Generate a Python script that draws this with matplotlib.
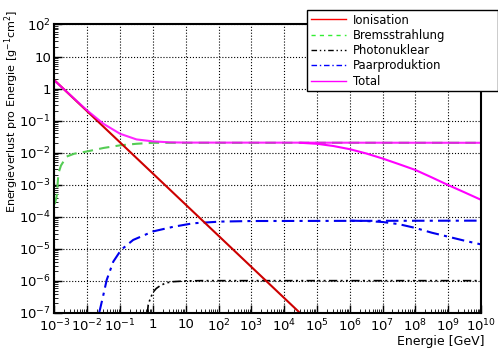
import matplotlib
matplotlib.use('Agg')
import matplotlib.pyplot as plt
from matplotlib.lines import Line2D
from matplotlib.ticker import FixedLocator, FixedFormatter, LogLocator, NullFormatter

plt.rcParams['mathtext.default'] = 'regular'

# Ionisation (straight line in log-log)
e_ion = [1e-3, 1e-2, 1e-1, 1, 10, 1e2, 1e3, 1e4, 1e5]
v_ion = [1.82, 0.195, 2.09e-2, 2.24e-3, 2.4e-4, 2.57e-5, 2.75e-6, 2.95e-7, 3.16e-8]

# Bremsstrahlung
e_brems = [1.02e-3, 1.17e-3, 1.32e-3, 1.58e-3, 2.34e-3, 3.98e-3, 1e-2, 3.16e-2,
           0.1, 0.316, 1, 10, 1e10]
v_brems = [2.5e-4, 4.5e-4, 2.3e-3, 4.0e-3, 7.6e-3, 9.3e-3, 1.1e-2, 1.41e-2,
           1.7e-2, 1.9e-2, 2.04e-2, 2.04e-2, 2.04e-2]

# Photonuklear
e_photo = [0.68, 0.72, 0.8, 1.0, 1.26, 1.66, 2.5, 4.2, 10, 30, 1e10]
v_photo = [1e-7, 1.8e-7, 2.5e-7, 4.4e-7, 5.8e-7, 7.1e-7, 8.7e-7, 9.5e-7,
           1.0e-6, 1.02e-6, 1.02e-6]

# Paarproduktion (ohne / mit Abfall bei hohen Energien)
e_pair = [0.023, 0.03, 0.039, 0.062, 0.107, 0.25, 1.0, 4.2, 17, 112, 1e3, 1e10]
v_pair = [1e-7, 3.2e-7, 1.07e-6, 4.0e-6, 9.3e-6, 1.9e-5, 3.5e-5, 4.9e-5,
          6.3e-5, 7.1e-5, 7.4e-5, 7.6e-5]
e_pair_hi = [1e6, 3.16e6, 1e7, 3.16e7, 1e8, 3.16e8, 1e9, 3.16e9, 1e10]
v_pair_hi = [7.6e-5, 7.4e-5, 6.9e-5, 5.9e-5, 4.5e-5, 3.2e-5, 2.4e-5, 1.8e-5, 1.38e-5]

# Total
e_tot = [1e-3, 3.16e-3, 1e-2, 3.16e-2, 0.1, 0.316, 1, 3.16, 10, 1e10]
v_tot = [1.78, 0.605, 0.206, 7.9e-2, 3.9e-2, 2.6e-2, 2.26e-2, 2.11e-2, 2.07e-2, 2.04e-2]
e_tot_hi = [3.16e4, 1e5, 3.16e5, 1e6, 3.16e6, 1e7, 3.16e7, 1e8, 3.16e8, 1e9, 3.16e9, 1e10]
v_tot_hi = [2.04e-2, 1.9e-2, 1.62e-2, 1.29e-2, 9.5e-3, 6.6e-3, 4.4e-3, 2.9e-3,
            1.7e-3, 9.8e-4, 5.8e-4, 3.4e-4]

x_ticks = [1e-3, 1e-2, 1e-1, 1, 10, 1e2, 1e3, 1e4, 1e5, 1e6, 1e7, 1e8, 1e9, 1e10]
x_labels = ['$10^{-3}$', '$10^{-2}$', '$10^{-1}$', '1', '10', '$10^{2}$', '$10^{3}$',
            '$10^{4}$', '$10^{5}$', '$10^{6}$', '$10^{7}$', '$10^{8}$', '$10^{9}$', '$10^{10}$']
y_ticks = [1e-7, 1e-6, 1e-5, 1e-4, 1e-3, 1e-2, 1e-1, 1, 10, 1e2]
y_labels = ['$10^{-7}$', '$10^{-6}$', '$10^{-5}$', '$10^{-4}$', '$10^{-3}$', '$10^{-2}$',
            '$10^{-1}$', '1', '10', '$10^{2}$']

labels = ['Ionisation', 'Bremsstrahlung', 'Photonuklear', 'Paarproduktion', 'Total']

fig = plt.figure(figsize=(4.98, 3.52), dpi=100)
ax = fig.add_axes([0.1094, 0.1108, 0.8564, 0.8196])

photo_dash = [5, 2, 1.2, 2, 1.2, 2]
pair_dash = [6, 2.5, 1.5, 2.5]

ax.plot(e_brems, v_brems, color='#55cc55', lw=1.5, dashes=[5, 3])
ax.plot(e_photo, v_photo, color='k', lw=1.2, dashes=photo_dash)
ax.plot(e_pair, v_pair, color='#0000ee', lw=1.5, dashes=pair_dash)
ax.plot(e_pair_hi, v_pair_hi, color='#0000ee', lw=1.5, dashes=pair_dash)
ax.plot(e_ion, v_ion, color='#cc0000', lw=1.5)
ax.plot(e_tot, v_tot, color='#ff00ff', lw=1.5, alpha=0.85)
ax.plot(e_tot_hi, v_tot_hi, color='#ff00ff', lw=1.5)

ax.set_xscale('log')
ax.set_yscale('log')
ax.set_xlim(1e-3, 1e10)
ax.set_ylim(1e-7, 1e2)

ax.xaxis.set_major_locator(FixedLocator(x_ticks))
ax.xaxis.set_major_formatter(FixedFormatter(x_labels))
ax.yaxis.set_major_locator(FixedLocator(y_ticks))
ax.yaxis.set_major_formatter(FixedFormatter(y_labels))
ax.xaxis.set_minor_locator(LogLocator(base=10, subs=range(2, 10), numticks=30))
ax.yaxis.set_minor_locator(LogLocator(base=10, subs=range(2, 10), numticks=30))
ax.xaxis.set_minor_formatter(NullFormatter())
ax.yaxis.set_minor_formatter(NullFormatter())

ax.tick_params(which='both', direction='in', top=False, right=False, labelsize=9.5)
ax.tick_params(which='major', length=6, width=1)
ax.tick_params(which='minor', length=3, width=0.6)
ax.tick_params(axis='y', pad=2.5)
ax.tick_params(axis='x', pad=3.5)
for s in ax.spines.values():
    s.set_linewidth(1.5)

ax.grid(True, which='major', linestyle=':', color='k', linewidth=0.8)

ax.set_ylabel('Energieverlust pro Energie [g$^{-1}$cm$^{2}$]', fontsize=8.0)
ax.yaxis.set_label_coords(-0.079, 0.700)
ax.set_xlabel('Energie [GeV]', fontsize=9, ha='right')
ax.xaxis.set_label_coords(1.0094, -0.075)

handles = [Line2D([], [], color='#ff0000', lw=1),
           Line2D([], [], color='#33ee33', lw=1, dashes=[3, 3]),
           Line2D([], [], color='k', lw=1, dashes=[4, 2, 1, 2, 1, 2]),
           Line2D([], [], color='#0000ff', lw=1, dashes=[4, 2, 1, 2]),
           Line2D([], [], color='#ff00ff', lw=1)]
leg = ax.legend(handles, labels, loc='upper left',
                bbox_to_anchor=(307 / 498, 1 - 90 / 352, 190.5 / 498, 80 / 352),
                bbox_transform=fig.transFigure, mode='expand',
                fancybox=False, edgecolor='k', framealpha=1, fontsize=8.4,
                handlelength=3, labelspacing=0.2, borderpad=0.3,
                handletextpad=0.6, borderaxespad=0)
leg.get_frame().set_linewidth(1)

fig.savefig('out.png', dpi=100)
